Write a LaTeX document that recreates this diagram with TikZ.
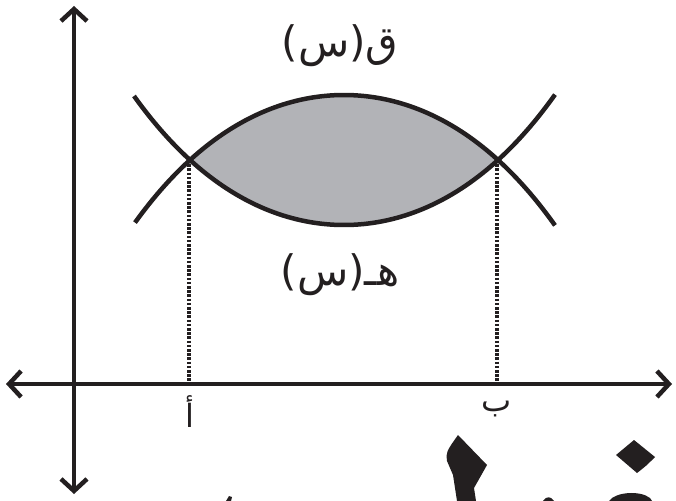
\documentclass[tikz,border=0pt]{standalone}
\usepackage{fontspec}
\usetikzlibrary{arrows.meta}
\newfontfamily\arabicfont[Script=Arabic]{DejaVu Sans}
\TeXXeTstate=1
\definecolor{ink}{HTML}{231F20}
\definecolor{regiongray}{HTML}{B2B3B7}
\tikzset{
  axisline/.style={line width=4.5pt, draw=ink, {Straight Barb[length=12pt,width=26pt]}-{Straight Barb[length=12pt,width=26pt]}},
  curve/.style={line width=4.5pt, draw=ink},
  dotline/.style={line width=3.8pt, draw=ink, dash pattern=on 2.5pt off 1.7pt},
  lbl/.style={text=ink, inner sep=0pt, font=\arabicfont\fontsize{42}{44}\selectfont},
  ptlbl/.style={text=ink, inner sep=0pt, font=\arabicfont\fontsize{32}{34}\selectfont},
  frag/.style={fill=ink, draw=none}
}
\begin{document}
\begin{tikzpicture}[x=1pt,y=-1pt]
\useasboundingbox (0,0) rectangle (676,500);
\clip (0,0) rectangle (676,500);
% named points
\coordinate (yt) at (74,6);
\coordinate (yb) at (74,494);
\coordinate (xl) at (6,384);
\coordinate (xr) at (672,384);
\coordinate (A) at (189,160);
\coordinate (B) at (497,160);
\coordinate (Ax) at (189,382);
\coordinate (Bx) at (497,382);
% shaded region
\fill[regiongray] plot[domain=189:497, samples=80] (\x, {95+59.9*((\x-344)/154)*((\x-344)/154)+5.09*((\x-344)/154)*((\x-344)/154)*((\x-344)/154)*((\x-344)/154)})
  -- plot[domain=497:189, samples=80] (\x, {225-59.9*((\x-344)/154)*((\x-344)/154)-5.09*((\x-344)/154)*((\x-344)/154)*((\x-344)/154)*((\x-344)/154)}) -- cycle;
% curves
\draw[curve] plot[domain=135:555, samples=100] (\x, {95+59.9*((\x-344)/154)*((\x-344)/154)+5.09*((\x-344)/154)*((\x-344)/154)*((\x-344)/154)*((\x-344)/154)});
\draw[curve] plot[domain=134:555, samples=100] (\x, {225-59.9*((\x-344)/154)*((\x-344)/154)-5.09*((\x-344)/154)*((\x-344)/154)*((\x-344)/154)*((\x-344)/154)});
% dotted drops
\draw[dotline] (A) -- (Ax);
\draw[dotline] (B) -- (Bx);
% axes
\draw[axisline] (yb) -- (yt);
\draw[axisline] (xl) -- (xr);
% labels
\node[lbl] (q) at (340,46) {\beginR ق(س)\endR};
\node[lbl] (h) at (340,275) {\beginR هـ(س)\endR};
\node[ptlbl] (a) at (190,412) {\beginR أ\endR};
\node[ptlbl] (b) at (497,409) {\beginR ب\endR};
% cropped fragments of large lettering at the bottom edge
\fill[frag] (458,435) -- (487,465) -- (474,488) -- (476,501) -- (457,501) -- (453,475) -- (447,461) .. controls (446,452) .. cycle;
\fill[frag] (634,440) -- (655,457) .. controls (646,466) .. (637,473) -- (616,455) -- cycle;
\fill[frag] (609,501) .. controls (615,492) and (640,490) .. (650,498) -- (652,501) -- cycle;
\fill[frag] (543,501) .. controls (546,496) and (551,496) .. (554,501) -- cycle;
\fill[frag] (226,501) -- (229,496) -- (232,497) -- (231,501) -- cycle;
\end{tikzpicture}
\end{document}
